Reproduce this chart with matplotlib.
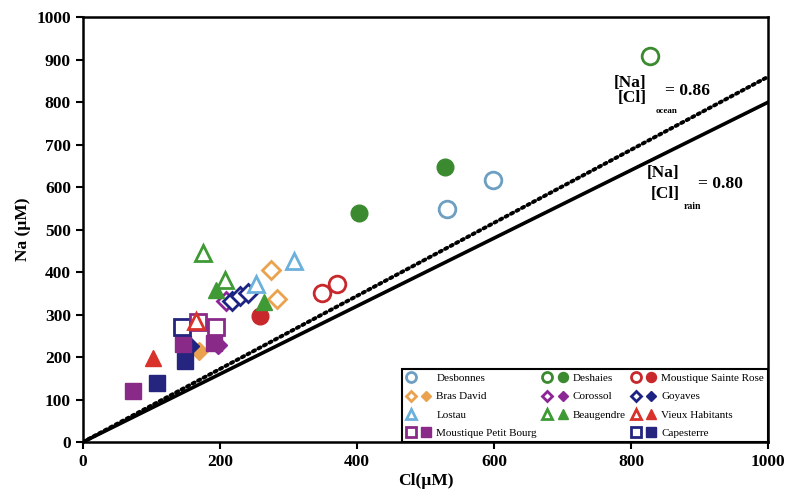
import numpy as np
import matplotlib
matplotlib.use("Agg")
import matplotlib.pyplot as plt
from matplotlib.lines import Line2D
from matplotlib.legend_handler import HandlerTuple

plt.rcParams['font.family'] = ['Liberation Serif', 'DejaVu Serif']

# data (Cl, Na in uM)
desbonnes_x = [531, 598]
desbonnes_y = [549, 617]
deshaies_open_x = [828]
deshaies_open_y = [908]
deshaies_fill_x = [403, 528]
deshaies_fill_y = [538, 648]
msr_open_x = [349, 371]
msr_open_y = [352, 373]
msr_fill_x = [258]
msr_fill_y = [296]
bras_open_x = [274, 284]
bras_open_y = [404, 336]
bras_fill_x = [170]
bras_fill_y = [215]
corossol_open_x = [209]
corossol_open_y = [331]
corossol_fill_x = [198]
corossol_fill_y = [228]
goyaves_open_x = [218, 230, 241]
goyaves_open_y = [333, 343, 350]
goyaves_fill_x = [156]
goyaves_fill_y = [226]
lostau_x = [253, 308]
lostau_y = [373, 427]
beaug_open_x = [175, 207]
beaug_open_y = [445, 382]
beaug_fill_x = [195, 265]
beaug_fill_y = [358, 330]
vh_open_x = [165]
vh_open_y = [285]
vh_fill_x = [102]
vh_fill_y = [198]
mpb_open_x = [168, 195]
mpb_open_y = [282, 272]
mpb_fill_x = [73, 146, 192]
mpb_fill_y = [120, 232, 234]
cap_open_x = [145]
cap_open_y = [272]
cap_fill_x = [108, 149]
cap_fill_y = [140, 190]

ratio_rain = 0.80
ratio_ocean = 0.86
line_x = np.array([0, 1000])

c_desb = '#6d9fc2'
c_desh = '#3b8a30'
c_msr = '#c8282c'
c_bras = '#eba24e'
c_coro = '#8c2596'
c_goy = '#1c2383'
c_lost = '#6cb0dc'
c_beau = '#3f9a35'
c_vh = '#d8322a'
c_mpb = '#8a2a88'
c_cap = '#25257f'

fig = plt.figure(figsize=(7.88, 5.03), dpi=100)
ax = fig.add_axes([0.105, 0.121, 0.870, 0.845])

ax.plot(line_x, ratio_rain * line_x, color='black', lw=2.6, zorder=2)
ax.plot(line_x, ratio_ocean * line_x, color='black', lw=2.8,
        linestyle=(0, (0.6, 1.0)), dash_capstyle='round', zorder=2)

ms = 12
lw = 2


def op(x, y, m, c, size=ms):
    return ax.plot(x, y, linestyle='none', marker=m, ms=size, mfc='white',
                   mec=c, mew=lw, zorder=3)[0]


def fl(x, y, m, c, size=ms):
    return ax.plot(x, y, linestyle='none', marker=m, ms=size, mfc=c,
                   mec=c, mew=1, zorder=3)[0]


h_desb = op(desbonnes_x, desbonnes_y, 'o', c_desb)
h_desh_o = op(deshaies_open_x, deshaies_open_y, 'o', c_desh)
h_desh_f = fl(deshaies_fill_x, deshaies_fill_y, 'o', c_desh)
h_msr_o = op(msr_open_x, msr_open_y, 'o', c_msr)
h_msr_f = fl(msr_fill_x, msr_fill_y, 'o', c_msr)
h_bras_f = fl(bras_fill_x, bras_fill_y, 'D', c_bras, 9)
h_bras_o = op(bras_open_x, bras_open_y, 'D', c_bras, 9)
h_coro_o = op(corossol_open_x, corossol_open_y, 'D', c_coro, 9)
h_coro_f = fl(corossol_fill_x, corossol_fill_y, 'D', c_coro, 9)
h_goy_o = op(goyaves_open_x, goyaves_open_y, 'D', c_goy, 9)
h_goy_f = fl(goyaves_fill_x, goyaves_fill_y, 'D', c_goy, 9)
h_lost = op(lostau_x, lostau_y, '^', c_lost)
h_beau_o = op(beaug_open_x, beaug_open_y, '^', c_beau)
h_beau_f = fl(beaug_fill_x, beaug_fill_y, '^', c_beau)
h_cap_f = fl(cap_fill_x, cap_fill_y, 's', c_cap)
h_mpb_f = fl(mpb_fill_x, mpb_fill_y, 's', c_mpb)
h_cap_o = op(cap_open_x, cap_open_y, 's', c_cap)
h_mpb_o = op(mpb_open_x, mpb_open_y, 's', c_mpb)
h_vh_o = op(vh_open_x, vh_open_y, '^', c_vh)
h_vh_f = fl(vh_fill_x, vh_fill_y, '^', c_vh)

ax.set_xlim(0, 1000)
ax.set_ylim(0, 1000)
ax.set_xticks(np.arange(0, 1001, 200))
ax.set_yticks(np.arange(0, 1001, 100))
ax.tick_params(direction='out', length=5, width=1.5, labelsize=12.5)
for lab in ax.get_xticklabels() + ax.get_yticklabels():
    lab.set_fontweight('bold')
for s in ax.spines.values():
    s.set_linewidth(1.8)
ax.set_xlabel('Cl(\u00b5M)', fontsize=12.5, fontweight='bold', labelpad=2)
ax.set_ylabel('Na (\u00b5M)', fontsize=12.5, fontweight='bold', labelpad=4)

# ratio annotations
tk = dict(fontsize=12.5, fontweight='bold', ha='center', va='center')
ax.text(799, 846, '[Na]', **tk)
ax.text(801, 810, '[Cl]', **tk)
ax.text(852, 779, 'ocean', fontsize=6.5, fontweight='bold', ha='center', va='center')
ax.text(882, 825, '= 0.86', **tk)
ax.text(847, 634, '[Na]', **tk)
ax.text(850, 583, '[Cl]', **tk)
ax.text(889, 555, 'rain', fontsize=7, fontweight='bold', ha='center', va='center')
ax.text(930, 607, '= 0.80', **tk)

blank = Line2D([], [], linestyle='none')
handles = [(h_desb, blank), (h_bras_o, h_bras_f), (h_lost, blank), (h_mpb_o, h_mpb_f),
           (h_desh_o, h_desh_f), (h_coro_o, h_coro_f), (h_beau_o, h_beau_f), (blank, blank),
           (h_msr_o, h_msr_f), (h_goy_o, h_goy_f), (h_vh_o, h_vh_f), (h_cap_o, h_cap_f)]
labels = ['Desbonnes', 'Bras David', 'Lostau', 'Moustique Petit Bourg',
          'Deshaies', 'Corossol', 'Beaugendre', '',
          'Moustique Sainte Rose', 'Goyaves', 'Vieux Habitants', 'Capesterre']
leg = ax.legend(handles, labels, ncol=3, loc='lower right', bbox_to_anchor=(1, 0),
                borderaxespad=0, fontsize=8, fancybox=False, edgecolor='black',
                handler_map={tuple: HandlerTuple(ndivide=None, pad=0.6)},
                handlelength=2.2, handletextpad=0.5, columnspacing=0.5,
                labelspacing=0.75, markerscale=0.6, framealpha=1)
leg.get_frame().set_linewidth(1.5)

fig.savefig('out.png', dpi=100)
